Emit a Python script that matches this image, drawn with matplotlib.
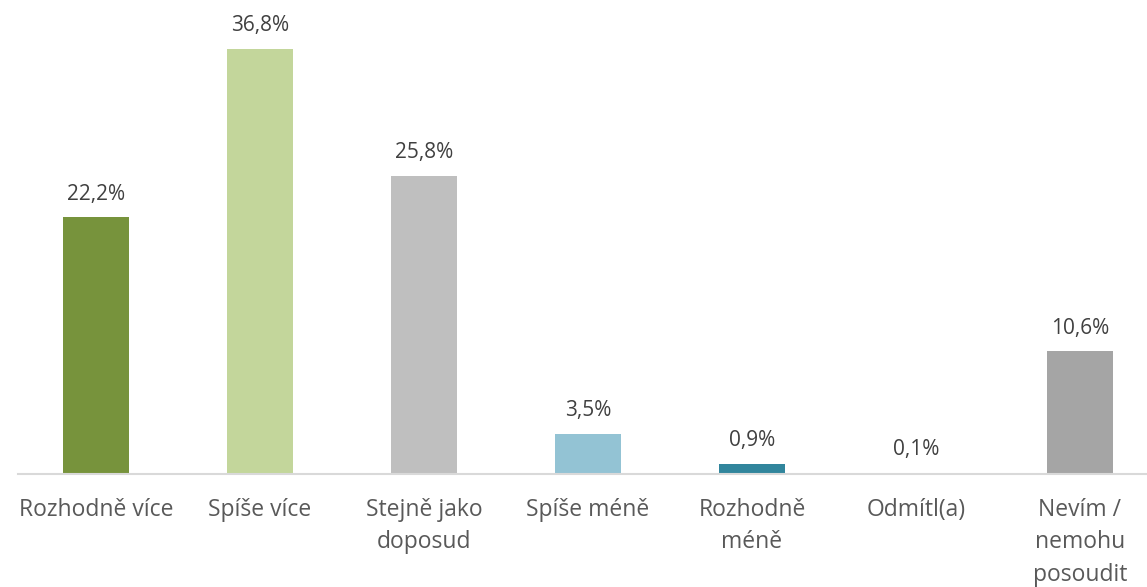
import matplotlib.pyplot as plt

# Data
categories = ['Rozhodně více', 'Spíše více', 'Stejně jako\ndoposud', 'Spíše méně',
              'Rozhodně\nméně', 'Odmítl(a)', 'Nevím /\nnemohu\nposoudit']
values = [22.2, 36.8, 25.8, 3.5, 0.9, 0.1, 10.6]
labels = ['22,2%', '36,8%', '25,8%', '3,5%', '0,9%', '0,1%', '10,6%']
colors = ['#77933C', '#C3D69B', '#BFBFBF', '#93C3D4', '#31859C', '#B7DDE8', '#A5A5A5']

plt.rcParams['font.family'] = ['Open Sans', 'DejaVu Sans']

fig = plt.figure(figsize=(11.47, 5.87), dpi=100)
ax = fig.add_axes([18 / 1147, 0.1925, 1 - 18 / 1147, 0.8075])

x = range(len(values))
ax.bar(x, values, width=0.4, color=colors, zorder=2)

for xi, v, lab in zip(x, values, labels):
    ax.annotate(lab, (xi, v), xytext=(0, 9), textcoords='offset points',
                ha='center', va='bottom', fontsize=15, color='#404040')

ax.set_xlim(-0.4756, 6.409)
ax.set_ylim(0, 41.0)
ax.set_xticks(list(x))
ax.set_xticklabels(categories, fontsize=16.5, color='#595959', linespacing=1.45)
ax.tick_params(axis='x', length=0, pad=17.5)
ax.set_yticks([])

for side in ['top', 'right', 'left']:
    ax.spines[side].set_visible(False)
ax.spines['bottom'].set_color('#D9D9D9')
ax.spines['bottom'].set_linewidth(1.5)

fig.savefig('out.png', dpi=100)
